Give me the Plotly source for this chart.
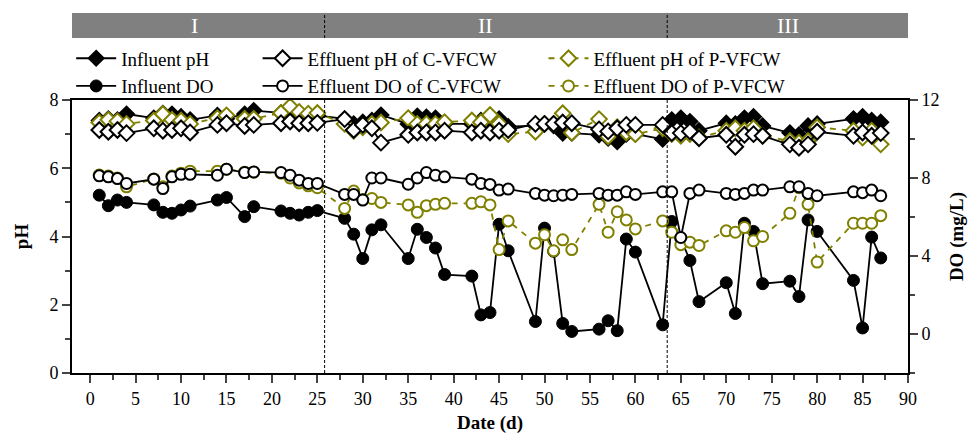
import plotly.graph_objects as go

days = [1, 2, 3, 4, 7, 8, 9, 10, 11, 14, 15, 17, 18, 21, 22, 23, 24, 25,
        28, 29, 30, 31, 32, 35, 36, 37, 38, 39, 42, 43, 44, 45, 46, 49, 50, 51, 52, 53,
        56, 57, 58, 59, 60, 63,
        64, 65, 66, 67, 70, 71, 72, 73, 74, 77, 78, 79, 80, 84, 85, 86, 87]

influent_ph = [7.40, 7.45, 7.42, 7.59, 7.47, 7.61, 7.59, 7.51, 7.42, 7.55, 7.45, 7.59, 7.69, 7.62, 7.55, 7.55, 7.55, 7.55,
               7.45, 7.30, 7.35, 7.40, 7.56, 7.30, 7.53, 7.50, 7.47, 7.30, 7.30, 7.40, 7.37, 7.45, 7.22, 7.25, 7.30, 7.25, 7.03, 7.03,
               6.98, 6.88, 6.78, 7.00, 7.00, 6.85,
               7.42, 7.47, 7.37, 7.10, 7.32, 7.30, 7.47, 7.51, 7.24, 7.04, 6.98, 7.24, 7.30, 7.45, 7.51, 7.40, 7.35]

c_ph = [7.12, 7.07, 7.12, 7.03, 7.17, 7.10, 7.12, 7.17, 7.05, 7.27, 7.32, 7.24, 7.27, 7.32, 7.37, 7.32, 7.32, 7.33,
        7.44, 7.12, 7.27, 7.17, 6.75, 6.98, 7.05, 7.05, 7.05, 7.10, 7.05, 7.10, 7.05, 7.10, 7.12, 7.30, 7.30, 7.30, 7.34, 7.32,
        7.14, 7.08, 7.17, 7.27, 7.27, 7.27,
        7.03, 7.03, 7.08, 6.88, 6.98, 6.63, 6.98, 7.00, 6.95, 6.70, 6.60, 6.70, 7.07, 6.95, 7.05, 6.95, 7.03]

p_ph = [7.34, 7.42, 7.38, 7.30, 7.40, 7.59, 7.42, 7.40, 7.30, 7.47, 7.55, 7.45, 7.45, 7.62, 7.81, 7.65, 7.60, 7.62,
        7.30, 7.10, 7.20, 7.30, 7.34, 7.47, 7.30, 7.30, 7.30, 7.35, 7.40, 7.35, 7.56, 7.30, 7.00, 7.07, 7.30, 7.30, 7.61, 7.04,
        7.44, 6.93, 7.20, 7.05, 7.00, 7.17,
        7.00, 6.95, 7.00, 6.90, 7.10, 7.17, 7.10, 7.17, 6.95, 6.80, 6.75, 6.80, 7.20, 7.10, 6.90, 7.10, 6.70]

influent_do = [7.12, 6.58, 6.87, 6.75, 6.62, 6.24, 6.19, 6.36, 6.56, 6.87, 7.00, 6.02, 6.53, 6.31, 6.19, 6.10, 6.24, 6.33,
               5.93, 5.12, 3.87, 5.34, 5.60, 3.87, 5.37, 4.95, 4.41, 3.05, 2.97, 0.98, 1.10, 5.63, 4.27, 0.64, 5.43, 4.24, 0.54, 0.13,
               0.25, 0.68, 0.17, 4.87, 4.20, 0.47,
               5.77, 4.90, 3.77, 1.66, 2.63, 1.05, 5.68, 5.26, 2.58, 2.71, 1.92, 5.85, 5.26, 2.75, 0.31, 4.97, 3.90]

c_do = [8.11, 8.06, 7.97, 7.72, 7.94, 7.46, 8.06, 8.19, 8.19, 8.14, 8.45, 8.28, 8.31, 8.28, 8.14, 7.89, 7.72, 7.72,
        7.16, 7.16, 6.87, 8.00, 8.00, 7.68, 8.00, 8.28, 8.14, 8.06, 7.94, 7.72, 7.67, 7.38, 7.43, 7.21, 7.12, 7.09, 7.12, 7.16,
        7.21, 7.12, 7.12, 7.29, 7.16, 7.29,
        7.29, 4.95, 7.21, 7.38, 7.21, 7.16, 7.21, 7.38, 7.38, 7.55, 7.55, 7.21, 7.09, 7.29, 7.25, 7.38, 7.09]

p_do = [8.15, 8.10, 8.00, 7.55, 7.95, 7.55, 8.10, 8.25, 8.35, 8.35, 8.45, 8.30, 8.30, 8.25, 8.00, 7.75, 7.60, 7.50,
        6.44, 7.33, 6.90, 6.95, 6.75, 6.62, 6.24, 6.58, 6.65, 6.70, 6.70, 6.78, 6.62, 4.33, 5.80, 4.66, 5.09, 4.27, 4.83, 4.33,
        6.65, 5.22, 6.27, 5.85, 5.39, 5.80,
        5.22, 4.58, 4.71, 4.54, 5.29, 5.22, 5.46, 4.78, 5.00, 6.19, 7.50, 6.65, 3.69, 5.68, 5.68, 5.68, 6.07]

phase_labels = ["I", "II", "III"]
phase_centers = [11.5, 43.5, 76.8]
phase_bounds = [25.8, 63.5]

OLIVE = "#808000"
FONT = "Liberation Serif"

fig = go.Figure()

# pH traces
fig.add_trace(go.Scatter(
    x=days, y=influent_ph, name="Influent pH", mode="lines+markers", legend="legend",
    line=dict(color="black", width=1.8),
    marker=dict(symbol="diamond", size=12, color="black", line=dict(color="black", width=1.5))))
fig.add_trace(go.Scatter(
    x=days, y=p_ph, name="Effluent pH of P-VFCW", mode="lines+markers", legend="legend3",
    line=dict(color=OLIVE, width=1.8, dash="6px,6px"),
    marker=dict(symbol="diamond", size=12, color="white", line=dict(color=OLIVE, width=2))))
fig.add_trace(go.Scatter(
    x=days, y=c_ph, name="Effluent pH of C-VFCW", mode="lines+markers", legend="legend2",
    line=dict(color="black", width=1.8),
    marker=dict(symbol="diamond", size=12, color="white", line=dict(color="black", width=2))))

# DO traces
fig.add_trace(go.Scatter(
    x=days, y=influent_do, name="Influent DO", mode="lines+markers", legend="legend", yaxis="y2",
    line=dict(color="black", width=1.8),
    marker=dict(symbol="circle", size=12, color="black", line=dict(color="black", width=1))))
fig.add_trace(go.Scatter(
    x=days, y=p_do, name="Effluent DO of P-VFCW", mode="lines+markers", legend="legend3", yaxis="y2",
    line=dict(color=OLIVE, width=1.8, dash="6px,6px"),
    marker=dict(symbol="circle", size=11, color="white", line=dict(color=OLIVE, width=2))))
fig.add_trace(go.Scatter(
    x=days, y=c_do, name="Effluent DO of C-VFCW", mode="lines+markers", legend="legend2", yaxis="y2",
    line=dict(color="black", width=1.8),
    marker=dict(symbol="circle", size=11, color="white", line=dict(color="black", width=2))))

shapes = []
for b in phase_bounds:
    shapes.append(dict(type="line", xref="x", yref="paper", x0=b, x1=b, y0=0, y1=1,
                       line=dict(color="black", width=1, dash="3px,2px")))
shapes.append(dict(type="rect", xref="paper", yref="paper", x0=0, x1=1, y0=1.227, y1=1.319,
                   fillcolor="#808080", line=dict(width=0), layer="below"))
for b in phase_bounds:
    shapes.append(dict(type="line", xref="x", yref="paper", x0=b, x1=b, y0=1.227, y1=1.319,
                       line=dict(color="black", width=1, dash="3px,2px")))

annotations = []
for lab, cx in zip(phase_labels, phase_centers):
    annotations.append(dict(x=cx, y=1.273, xref="x", yref="paper", text=lab, showarrow=False,
                            font=dict(family=FONT, size=22, color="white"), xanchor="center", yanchor="middle"))

legend_common = dict(orientation="v", font=dict(family=FONT, size=19, color="black"),
                     bgcolor="rgba(0,0,0,0)", yanchor="top", y=1.222, tracegroupgap=0,
                     itemwidth=40)

fig.update_layout(
    width=976, height=438,
    margin=dict(l=62, r=76, t=92, b=73),
    paper_bgcolor="white", plot_bgcolor="white",
    font=dict(family=FONT, size=18, color="black"),
    shapes=shapes, annotations=annotations,
    legend=dict(**legend_common, x=-0.001, xanchor="left"),
    legend2=dict(**legend_common, x=0.222, xanchor="left"),
    legend3=dict(**legend_common, x=0.564, xanchor="left"),
    xaxis=dict(range=[-2, 90], tickvals=list(range(0, 91, 5)), ticks="outside", ticklen=8, tickwidth=2,
               showline=True, linewidth=2, linecolor="black", mirror=True, showgrid=False, zeroline=False,
               minor=dict(tick0=0, dtick=2.5, ticks="outside", ticklen=5, tickwidth=1.5, showgrid=False),
               title=dict(text="<b>Date (d)</b>", font=dict(family=FONT, size=19), standoff=8),
               tickfont=dict(family=FONT, size=18)),
    yaxis=dict(range=[0, 8], tickvals=[0, 2, 4, 6, 8], ticks="outside", ticklen=8, tickwidth=2,
               showline=True, linewidth=2, linecolor="black", showgrid=False, zeroline=False,
               minor=dict(tick0=0, dtick=1, ticks="outside", ticklen=5, tickwidth=1.5, showgrid=False),
               title=dict(text="<b>pH</b>", font=dict(family=FONT, size=19), standoff=16),
               tickfont=dict(family=FONT, size=18)),
    yaxis2=dict(range=[-2, 12], tickvals=[0, 4, 8, 12], ticks="outside", ticklen=8, tickwidth=2,
                overlaying="y", side="right",
                showline=True, linewidth=2, linecolor="black", showgrid=False, zeroline=False,
                minor=dict(tick0=0, dtick=2, ticks="outside", ticklen=5, tickwidth=1.5, showgrid=False),
                title=dict(text="<b>DO (mg/L)</b>", font=dict(family=FONT, size=19), standoff=11),
                tickfont=dict(family=FONT, size=18)),
)

fig.write_html("out.html")
